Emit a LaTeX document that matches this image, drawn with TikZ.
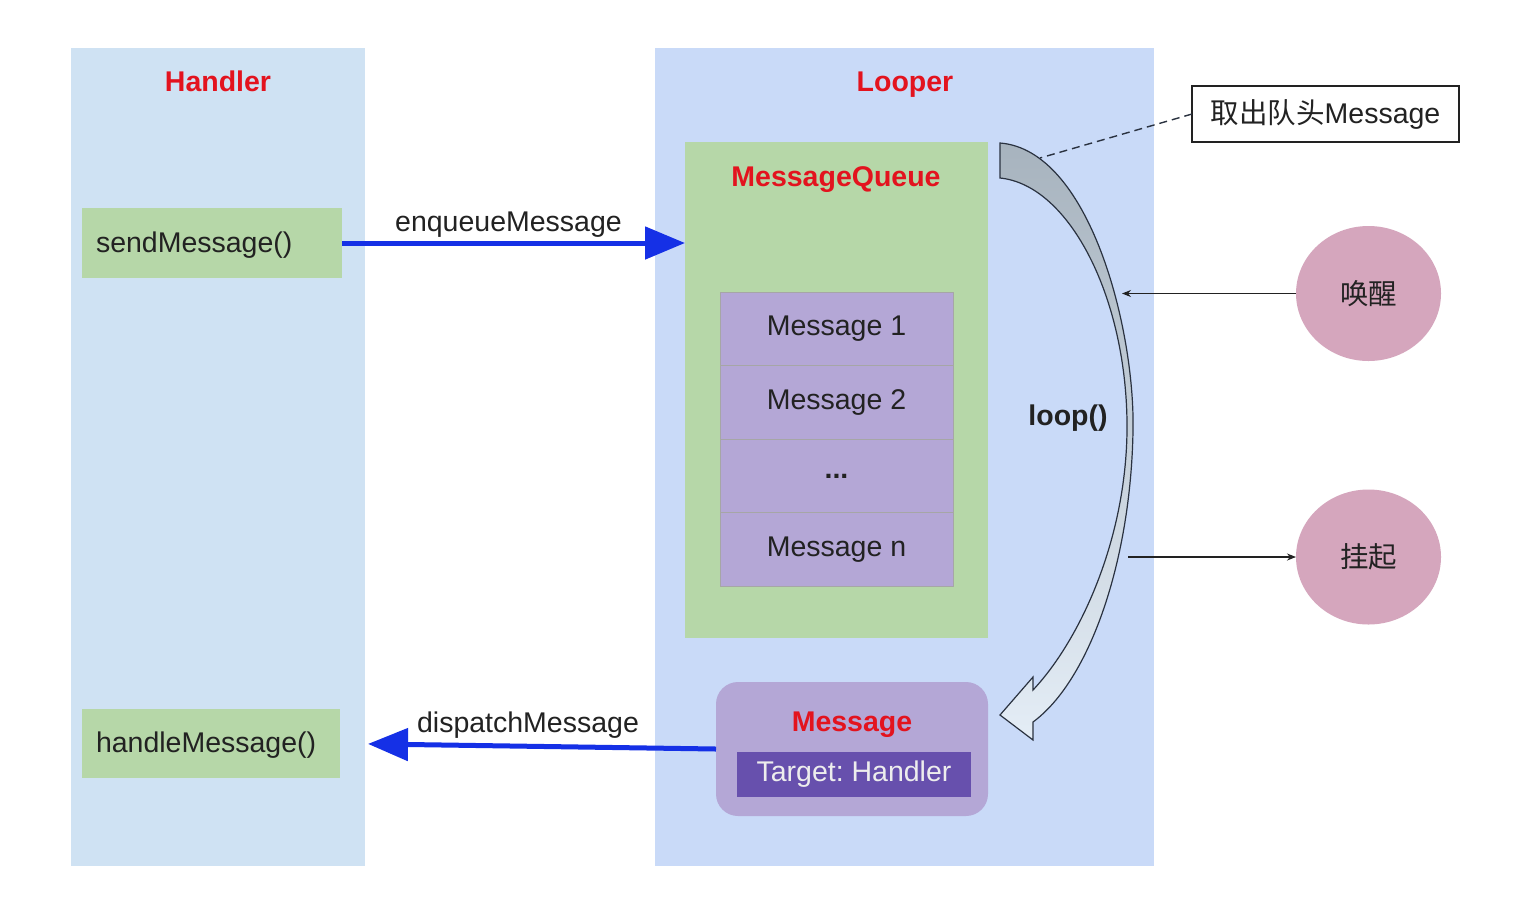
\documentclass[tikz,border=0pt]{standalone}
\usepackage{fontspec}
\setmainfont{Liberation Sans}
\newfontfamily\cjk{Noto Sans CJK SC}
\usetikzlibrary{arrows.meta,shapes.geometric}
\frenchspacing

\definecolor{handlerbg}{HTML}{CFE2F3}
\definecolor{looperbg}{HTML}{C9DAF8}
\definecolor{greenbox}{HTML}{B6D7A8}
\definecolor{lilac}{HTML}{B4A7D6}
\definecolor{deeppurple}{HTML}{6750AD}
\definecolor{pinkdot}{HTML}{D5A6BD}
\definecolor{titlered}{HTML}{E3131E}
\definecolor{flowblue}{HTML}{1530E6}
\definecolor{inktext}{HTML}{222222}
\definecolor{loopdark}{HTML}{2A3240}
\definecolor{looptop}{HTML}{A7B3BE}
\definecolor{loopbottom}{HTML}{E4EDF6}

\begin{document}
\begin{tikzpicture}[x=1pt,y=-1pt,
  every node/.style={inner sep=0pt, outer sep=0pt, text=inktext},
  font=\fontsize{28.5}{32}\selectfont,
  panel/.style={fill=#1, minimum width=294pt, minimum height=818pt},
  paneltitle/.style={anchor=base, font=\fontsize{28.5}{32}\selectfont\bfseries, text=titlered},
  callbox/.style={fill=greenbox, minimum height=70pt, inner xsep=14pt, text width=232pt, align=left,
    text height=21pt, text depth=3pt},
  queuerow/.style={fill=lilac, draw=black!35, line width=0.6pt, minimum width=233pt, minimum height=73.5pt},
  flow/.style={draw=flowblue, line width=5pt, -{Triangle[length=40pt,width=32pt]}},
  thinflow/.style={draw=inktext, line width=1.2pt, -{Stealth[length=9pt,width=7pt]}},
  state/.style={ellipse, fill=pinkdot, minimum width=145pt, minimum height=135pt, font=\fontsize{28.5}{32}\selectfont\cjk}
]
\useasboundingbox (0,0) rectangle (1514,906);
\fill[white] (0,0) rectangle (1514,906);

% two swim lanes
\node[panel=handlerbg] (handler) at (218,457) {};
\node[panel=looperbg, minimum width=499pt] (looper) at (904.5,457) {};
\node[paneltitle] at (218,91) {Handler};
\node[paneltitle] at (905,91) {Looper};

% Handler methods
\node[callbox] (send) at (212,243) {sendMessage()};
\node[callbox, minimum height=69pt, text width=230pt] (handle) at (211,743.5) {handleMessage()};

% message queue
\node[fill=greenbox, minimum width=303pt, minimum height=496pt] (mq) at (836.5,390) {};
\node[paneltitle] at (836,186) {MessageQueue};
\node[queuerow] (m1) at (836.5,329) {Message 1};
\node[queuerow] (m2) at (836.5,402.5) {Message 2};
\node[queuerow] (m3) at (836.5,476) {\raisebox{-4pt}{\bfseries...}};
\node[queuerow] (m4) at (836.5,549.5) {Message n};

% message being dispatched
\node[fill=lilac, rounded corners=22pt, minimum width=272pt, minimum height=134pt] (msg) at (852,749) {};
\node[paneltitle] at (852,731) {Message};
\node[fill=deeppurple, minimum width=234pt, minimum height=45pt, text=white!93!black] (target) at (854,774.5) {Target: Handler};

% enqueue / dispatch
\draw[flow] (send.east) -- (send.east -| mq.west)
  node[midway, above=6pt, xshift=-5pt] {enqueueMessage};
\draw[flow, shorten >=28pt] (msg.west) -- (handle.east)
  node[pos=0.5, above=8pt] {dispatchMessage};

% loop() curved block arrow
\path[draw=loopdark, line width=1.2pt, top color=looptop, bottom color=loopbottom]
  (1000,143) .. controls (1090,150) and (1135,330) .. (1133,430)
  .. controls (1131,560) and (1090,680) .. (1033,722)
  -- (1033,740) -- (1000,715) -- (1033,677) -- (1033,690)
  .. controls (1080,640) and (1126,540) .. (1127,430)
  .. controls (1128,300) and (1070,185) .. (1000,178) -- cycle;
\node[font=\fontsize{28.5}{32}\selectfont\bfseries] (loop) at (1068,418) {loop()};

% head-of-queue note
\node[draw=inktext, line width=1.2pt, fill=white, minimum width=267pt, minimum height=56pt] (takehead) at (1325.5,114) {{\cjk 取出队头}Message};
\coordinate (headpt) at (1040,158);
\draw[draw=loopdark, line width=1.4pt, dash pattern=on 8pt off 5pt] (takehead.west) -- (headpt);

% wake-up / suspend states
\node[state] (wake) at (1368.5,293.5) {唤醒};
\node[state] (hang) at (1368.5,557) {挂起};
\coordinate (wakept) at (1122,293.5);
\coordinate (hangpt) at (1128,557);
\draw[thinflow] (wake.west) -- (wakept);
\draw[thinflow] (hangpt) -- (hang.west);
\end{tikzpicture}
\end{document}
